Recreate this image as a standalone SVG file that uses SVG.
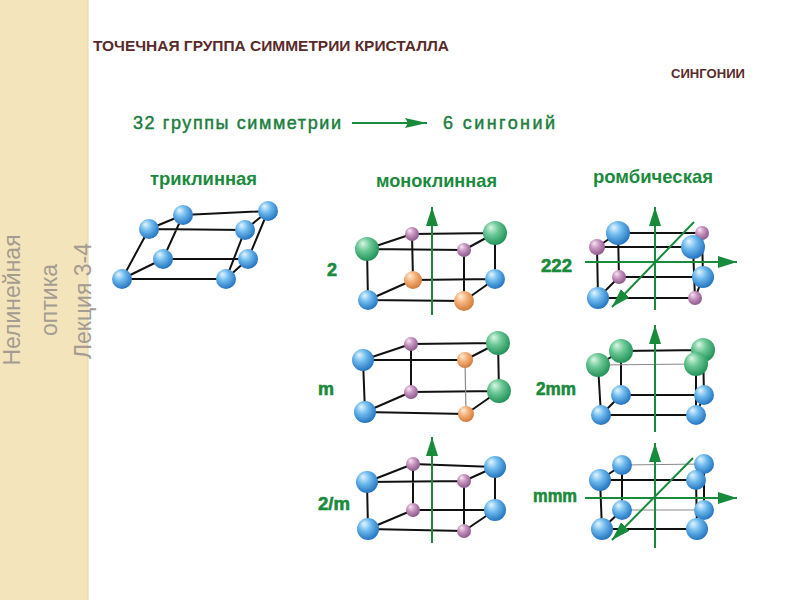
<svg xmlns="http://www.w3.org/2000/svg" width="800" height="600" viewBox="0 0 800 600">
<defs>
  <radialGradient id="gb" cx="0.42" cy="0.38" r="0.62" fx="0.32" fy="0.26">
    <stop offset="0" stop-color="#e6f5ff"/>
    <stop offset="0.45" stop-color="#6fbbee"/>
    <stop offset="1" stop-color="#2574c0"/>
  </radialGradient>
  <radialGradient id="gg" cx="0.42" cy="0.38" r="0.62" fx="0.32" fy="0.26">
    <stop offset="0" stop-color="#dcf6e6"/>
    <stop offset="0.45" stop-color="#6cc896"/>
    <stop offset="1" stop-color="#23925a"/>
  </radialGradient>
  <radialGradient id="gp" cx="0.42" cy="0.38" r="0.62" fx="0.32" fy="0.26">
    <stop offset="0" stop-color="#f6e6f2"/>
    <stop offset="0.45" stop-color="#c996c2"/>
    <stop offset="1" stop-color="#8c5a8a"/>
  </radialGradient>
  <radialGradient id="go" cx="0.42" cy="0.38" r="0.62" fx="0.32" fy="0.26">
    <stop offset="0" stop-color="#fff0e0"/>
    <stop offset="0.45" stop-color="#f6b27c"/>
    <stop offset="1" stop-color="#d27c3c"/>
  </radialGradient>
  <marker id="ah" markerUnits="userSpaceOnUse" markerWidth="20" markerHeight="14" refX="19" refY="6" orient="auto">
    <path d="M0,0 L19,6 L0,12 Z" fill="#178a3c"/>
  </marker>
  <marker id="ahs" markerUnits="userSpaceOnUse" markerWidth="24" markerHeight="12" refX="22" refY="5" orient="auto">
    <path d="M0,0 L22,5 L0,10 L3,5 Z" fill="#178a3c"/>
  </marker>
</defs>
<style>
  .e{stroke:#111;stroke-width:2;fill:none;stroke-linecap:round}
  .t{stroke:#8a8a8a;stroke-width:1.2;fill:none}
  .ax{stroke:#178a3c;stroke-width:2;fill:none;marker-end:url(#ah)}
  .b{fill:url(#gb)}
  .g{fill:url(#gg)}
  .p{fill:url(#gp)}
  .o{fill:url(#go)}
  .side{font-family:"Liberation Sans",Arial,sans-serif;font-size:23px;fill:#a39c92;text-anchor:middle}
  .hd{font-family:"Liberation Sans",Arial,sans-serif;font-weight:bold;font-size:18.5px;fill:#1a8a3c}
  .lb{font-family:"Liberation Sans",Arial,sans-serif;font-weight:bold;font-size:18px;fill:#1a8a3c;stroke:#1a8a3c;stroke-width:0.6}
  .gt{font-family:"Liberation Sans",Arial,sans-serif;font-size:18px;fill:#1c7d3c;stroke:#1c7d3c;stroke-width:0.45}
  .tt{font-family:"Liberation Sans",Arial,sans-serif;font-weight:bold;fill:#5a2a2a}
</style>
<rect x="0" y="0" width="800" height="600" fill="#ffffff"/>
<g id="sidebar">
  <rect x="0" y="0" width="88" height="600" fill="#f4e4bb"/>
  <line x1="88" y1="0" x2="88" y2="600" stroke="#e8d6a6" stroke-width="1"/>
  <text class="side" transform="translate(20,300) rotate(-90)">Нелинейная</text>
  <text class="side" transform="translate(57,300) rotate(-90)">оптика</text>
  <text class="side" transform="translate(91,301) rotate(-90)">Лекция 3-4</text>
</g>
<g id="titles">
  <text class="tt" x="93" y="51" font-size="14.5" textLength="356" lengthAdjust="spacingAndGlyphs">ТОЧЕЧНАЯ ГРУППА СИММЕТРИИ КРИСТАЛЛА</text>
  <text class="tt" x="671" y="78" font-size="13" textLength="74" lengthAdjust="spacingAndGlyphs">СИНГОНИИ</text>
</g>
<g id="groups-text">
  <text class="gt" x="133" y="129" textLength="208" lengthAdjust="spacing">32 группы симметрии</text>
</g>
<g id="syngonies-text">
  <text class="gt" x="443" y="129" font-size="19" textLength="112" lengthAdjust="spacing">6 сингоний</text>
</g>
<g id="connectors">
  <line x1="352" y1="123" x2="427" y2="123" stroke="#178a3c" stroke-width="2" marker-end="url(#ahs)"/>
</g>
<g id="headings">
  <text class="hd" x="150" y="185" textLength="107" lengthAdjust="spacingAndGlyphs">триклинная</text>
  <text class="hd" x="376" y="187" textLength="121" lengthAdjust="spacingAndGlyphs">моноклинная</text>
  <text class="hd" x="593" y="183" textLength="120" lengthAdjust="spacingAndGlyphs">ромбическая</text>
</g>
<g id="triclinic">
  <path class="e" d="M149,229 L245,230 M183,215 L268,211 M122,279 L226,279 M163,259 L248,259 M149,229 L122,279 M183,215 L163,259 M245,230 L226,279 M268,211 L248,259 M149,229 L183,215 M245,230 L268,211 M122,279 L163,259 M226,279 L248,259"/>
  <circle class="b" cx="183" cy="215" r="10"/>
  <circle class="b" cx="268" cy="211" r="10"/>
  <circle class="b" cx="163" cy="259" r="10"/>
  <circle class="b" cx="248" cy="259" r="10"/>
  <circle class="b" cx="149" cy="229" r="10"/>
  <circle class="b" cx="245" cy="230" r="10"/>
  <circle class="b" cx="122" cy="279" r="10"/>
  <circle class="b" cx="226" cy="279" r="10"/>
</g>
<g id="mono-2">
  <text class="lb" x="327" y="276">2</text>
  <path class="e" d="M367,249 L464,250 M412,234 L495,233 M367,249 L412,234 M464,250 L495,233 M367,249 L368,300 M412,234 L413,280 M464,250 L464,301 M495,233 L495,279 M368,300 L464,301 M413,280 L495,279 M368,300 L413,280 M464,301 L495,279"/>
  <line class="ax" x1="432" y1="315" x2="432" y2="207"/>
  <circle class="p" cx="412" cy="234" r="7"/>
  <circle class="g" cx="495" cy="233" r="12"/>
  <circle class="o" cx="413" cy="280" r="9"/>
  <circle class="b" cx="495" cy="279" r="10"/>
  <circle class="g" cx="367" cy="249" r="12"/>
  <circle class="p" cx="464" cy="250" r="7"/>
  <circle class="b" cx="368" cy="300" r="10"/>
  <circle class="o" cx="464" cy="301" r="10"/>
</g>
<g id="mono-m">
  <text class="lb" x="318" y="395" textLength="16" lengthAdjust="spacingAndGlyphs">m</text>
  <path class="e" d="M363,360 L465,360 M411,344 L498,343 M363,360 L411,344 M465,360 L498,343 M363,360 L365,412 M411,344 L411,392 M498,343 L499,391 M365,412 L466,414 M411,392 L499,391 M365,412 L411,392 M466,414 L499,391"/>
  <line class="t" x1="465" y1="360" x2="466" y2="414"/>
  <circle class="p" cx="411" cy="344" r="7"/>
  <circle class="g" cx="498" cy="343" r="12"/>
  <circle class="p" cx="411" cy="392" r="7"/>
  <circle class="g" cx="499" cy="391" r="12"/>
  <circle class="b" cx="363" cy="360" r="11"/>
  <circle class="o" cx="465" cy="360" r="8"/>
  <circle class="b" cx="365" cy="412" r="11"/>
  <circle class="o" cx="466" cy="414" r="8"/>
</g>
<g id="mono-2m">
  <text class="lb" x="318" y="510" textLength="32" lengthAdjust="spacingAndGlyphs">2/m</text>
  <path class="e" d="M367,482 L464,481 M413,464 L495,467 M367,482 L413,464 M464,481 L495,467 M367,482 L368,529 M413,464 L413,510 M464,481 L464,531 M495,467 L495,510 M368,529 L464,531 M413,510 L495,510 M368,529 L413,510 M464,531 L495,510"/>
  <line class="ax" x1="432" y1="543" x2="432" y2="437"/>
  <circle class="p" cx="413" cy="464" r="7"/>
  <circle class="b" cx="495" cy="467" r="11"/>
  <circle class="p" cx="413" cy="510" r="7"/>
  <circle class="b" cx="495" cy="510" r="11"/>
  <circle class="b" cx="367" cy="482" r="11"/>
  <circle class="p" cx="464" cy="481" r="7"/>
  <circle class="b" cx="368" cy="529" r="11"/>
  <circle class="p" cx="464" cy="531" r="7"/>
</g>
<g id="rhomb-222">
  <text class="lb" x="541" y="272" textLength="31" lengthAdjust="spacingAndGlyphs">222</text>
  <path class="e" d="M618,233 L702,233 M597,247 L693,247 M597,247 L618,233 M693,247 L702,233 M597,247 L598,298 M618,233 L619,277 M693,247 L695,298 M702,233 L703,277 M598,298 L695,298 M619,277 L703,277 M598,298 L619,277 M695,298 L703,277"/>
  <line class="ax" x1="655" y1="310" x2="655" y2="207"/>
  <line class="ax" x1="585" y1="262" x2="737" y2="262"/>
  <line class="ax" x1="694" y1="222" x2="612" y2="307"/>
  <circle class="b" cx="618" cy="233" r="12"/>
  <circle class="p" cx="702" cy="233" r="7"/>
  <circle class="p" cx="619" cy="277" r="7"/>
  <circle class="b" cx="703" cy="277" r="11"/>
  <circle class="p" cx="597" cy="247" r="8"/>
  <circle class="b" cx="693" cy="247" r="12"/>
  <circle class="b" cx="598" cy="298" r="11"/>
  <circle class="p" cx="695" cy="298" r="7"/>
</g>
<g id="rhomb-2mm">
  <text class="lb" x="536" y="395" textLength="40" lengthAdjust="spacingAndGlyphs">2mm</text>
  <path class="e" d="M621,351 L703,350 M598,365 L621,351 M696,364 L703,350 M598,365 L601,415 M621,351 L621,395 M696,364 L696,415 M703,350 L704,395 M601,415 L696,415 M621,395 L704,395 M601,415 L621,395 M696,415 L704,395"/>
  <line class="t" x1="598" y1="365" x2="696" y2="364"/>
  <line class="ax" x1="655" y1="432" x2="655" y2="325"/>
  <circle class="g" cx="621" cy="351" r="12"/>
  <circle class="g" cx="703" cy="350" r="12"/>
  <circle class="b" cx="621" cy="395" r="10"/>
  <circle class="b" cx="704" cy="395" r="10"/>
  <circle class="g" cx="598" cy="365" r="12"/>
  <circle class="g" cx="696" cy="364" r="12"/>
  <circle class="b" cx="601" cy="415" r="10"/>
  <circle class="b" cx="696" cy="415" r="10"/>
</g>
<g id="rhomb-mmm">
  <text class="lb" x="533" y="502" textLength="44" lengthAdjust="spacingAndGlyphs">mmm</text>
  <path class="e" d="M600,480 L696,480 M600,480 L622,465 M696,480 L704,464 M600,480 L602,529 M622,465 L622,510 M696,480 L697,529 M704,464 L704,510 M602,529 L697,529 M602,529 L622,510 M697,529 L704,510"/>
  <line class="t" x1="622" y1="465" x2="704" y2="464"/>
  <line class="t" x1="622" y1="510" x2="704" y2="510"/>
  <line class="ax" x1="655" y1="548" x2="655" y2="443"/>
  <line class="ax" x1="585" y1="498" x2="737" y2="498"/>
  <line class="ax" x1="693" y1="458" x2="612" y2="540"/>
  <circle class="b" cx="622" cy="465" r="10"/>
  <circle class="b" cx="704" cy="464" r="10"/>
  <circle class="b" cx="622" cy="510" r="10"/>
  <circle class="b" cx="704" cy="510" r="10"/>
  <circle class="b" cx="600" cy="480" r="11"/>
  <circle class="b" cx="696" cy="480" r="10"/>
  <circle class="b" cx="602" cy="529" r="11"/>
  <circle class="b" cx="697" cy="529" r="11"/>
</g>
</svg>
